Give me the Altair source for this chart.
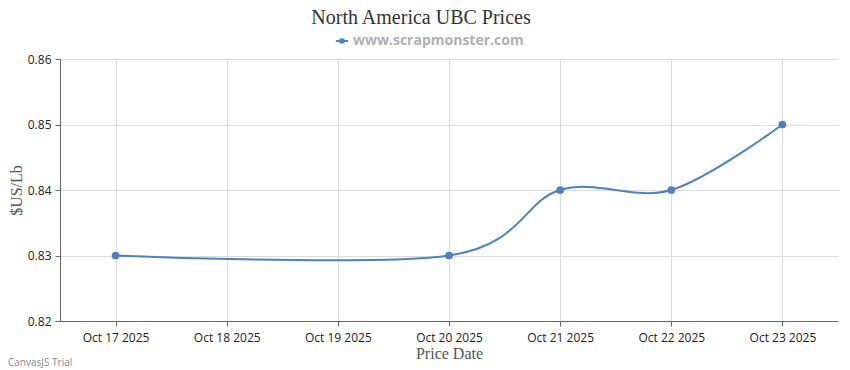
import altair as alt
import pandas as pd

# Data
day_numbers = [17, 20, 21, 22, 23]
prices = [0.83, 0.83, 0.84, 0.84, 0.85]
series_name = "www.scrapmonster.com"
chart_title = "North America UBC Prices"
x_tick_days = [17, 18, 19, 20, 21, 22, 23]
y_ticks = [0.82, 0.83, 0.84, 0.85, 0.86]

df = pd.DataFrame({"day": day_numbers, "price": prices, "series": [series_name] * len(prices)})

blue = "#4F81BC"
sans = "Open Sans"
serif = "Liberation Serif"

x_enc = alt.X(
    "day:Q",
    scale=alt.Scale(domain=[16.5, 23.5], nice=False, zero=False),
    axis=alt.Axis(
        values=x_tick_days,
        labelExpr="'Oct ' + datum.value + ' 2025'",
        title="Price Date",
        titleFont=serif,
        titleFontSize=16,
        titleFontWeight="normal",
        titleColor="#555",
        titlePadding=2,
        labelFont=sans,
        labelFontSize=12,
        labelColor="#222",
        labelPadding=6,
        tickSize=5,
        tickColor="#666",
        domainColor="#666",
        gridColor="#dcdcdc",
        grid=True,
        labelFlush=False,
    ),
)
y_enc = alt.Y(
    "price:Q",
    scale=alt.Scale(domain=[0.82, 0.86], nice=False, zero=False),
    axis=alt.Axis(
        values=y_ticks,
        format=".2f",
        title="$US/Lb",
        titleFont=serif,
        titleFontSize=16,
        titleFontWeight="normal",
        titleColor="#555",
        titlePadding=3,
        labelFont=sans,
        labelFontSize=12,
        labelColor="#222",
        labelPadding=4,
        tickSize=5,
        tickColor="#666",
        domainColor="#666",
        gridColor="#dcdcdc",
        grid=True,
    ),
)
color_enc = alt.Color(
    "series:N",
    scale=alt.Scale(domain=[series_name], range=[blue]),
    legend=alt.Legend(
        title=None,
        orient="none",
        legendX=275,
        legendY=-25,
        labelFont=sans,
        labelFontSize=14,
        labelFontWeight="bold",
        labelColor="#b0b0b0",
        labelLimit=400,
        symbolType="M-1,-0.15H1V0.15H-1Z M-0.4,-0.4H0.4V0.4H-0.4Z",
        symbolSize=150,
        symbolStrokeWidth=0,
        symbolFillColor=blue,
    ),
)

base = alt.Chart(df)
line = base.mark_line(interpolate="cardinal", strokeWidth=2, color=blue).encode(
    x=x_enc, y=y_enc, color=color_enc
)
points = base.mark_point(filled=True, size=60, opacity=1, color=blue).encode(
    x="day:Q", y="price:Q"
)
title_text = alt.Chart(pd.DataFrame({"t": [chart_title]})).mark_text(
    align="center", baseline="alphabetic", fontSize=20, font=serif, color="#333"
).encode(text="t:N", x=alt.value(361), y=alt.value(-35))
watermark = alt.Chart(pd.DataFrame({"t": ["CanvasJS Trial"]})).mark_text(
    align="left", baseline="alphabetic", fontSize=10, font=sans, color="#888"
).encode(text="t:N", x=alt.value(-52), y=alt.value(307))

chart = (
    alt.layer(line, points, title_text, watermark)
    .properties(
        width=778,
        height=262,
        padding={"left": 52, "top": 51, "right": 4, "bottom": 49},
        autosize=alt.AutoSizeParams(type="none"),
    )
    .configure_view(stroke=None)
)

chart.save("out.html", embed_options={"renderer": "svg", "actions": False})
